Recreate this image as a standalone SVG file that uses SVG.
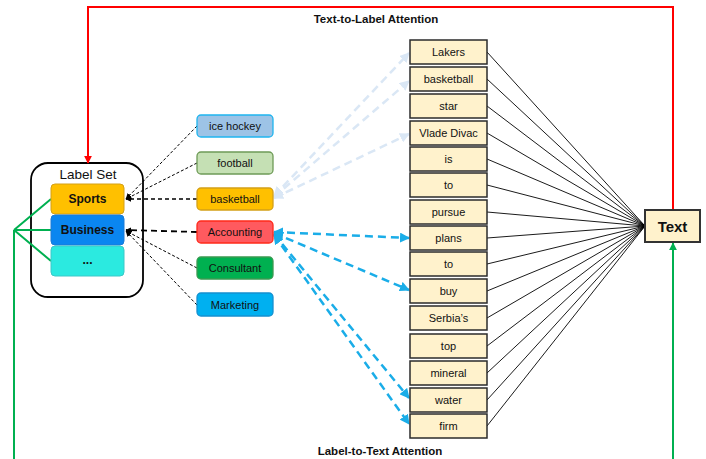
<svg xmlns="http://www.w3.org/2000/svg" width="706" height="459" viewBox="0 0 706 459">
<style>
text{font-family:"Liberation Sans",Arial,sans-serif;text-anchor:middle;dominant-baseline:central;fill:#111}
.w rect{fill:#FFF2CC;stroke:#2b2b2b;stroke-width:1.5}
.w text{font-size:11px}
.lbl text{font-size:11px}
.big{font-size:12px;font-weight:bold}
.title{font-size:11.5px;font-weight:bold}
.tl{stroke:#000;stroke-width:0.9;fill:none}
.bd{stroke:#000;stroke-width:1;fill:none;stroke-dasharray:3 2}
.bdm{stroke:#000;stroke-width:1.3;fill:none;stroke-dasharray:4 3}
.bdt{stroke:#000;stroke-width:1.8;fill:none;stroke-dasharray:6 4}
.lb{stroke:#DAE7F5;stroke-width:2.5;fill:none;stroke-dasharray:8 5}
.bl{stroke:#1AADE8;stroke-width:2.5;fill:none;stroke-dasharray:8 5}
</style>
<defs>
<marker id="mk" viewBox="0 0 10 10" refX="9" refY="5" markerWidth="6" markerHeight="6" markerUnits="userSpaceOnUse" orient="auto"><path d="M0,0L10,5L0,10z" fill="#000"/></marker>
<marker id="mlb" viewBox="0 0 10 10" refX="9" refY="5" markerWidth="4" markerHeight="4" orient="auto-start-reverse"><path d="M0,0L10,5L0,10z" fill="#DAE7F5"/></marker>
<marker id="mbl" viewBox="0 0 10 10" refX="9" refY="5" markerWidth="4" markerHeight="4" orient="auto-start-reverse"><path d="M0,0L10,5L0,10z" fill="#1AADE8"/></marker>
<marker id="mr" viewBox="0 0 10 10" refX="9" refY="5" markerWidth="4" markerHeight="4" orient="auto"><path d="M0,0L10,5L0,10z" fill="#FF0000"/></marker>
<marker id="mg" viewBox="0 0 10 10" refX="9" refY="5" markerWidth="4" markerHeight="4" orient="auto"><path d="M0,0L10,5L0,10z" fill="#00B050"/></marker>
</defs>

<g id="label-set">
<rect x="31" y="163" width="112" height="134" rx="17" fill="#fff" stroke="#000" stroke-width="1.8"/>
<text x="88" y="174" font-size="13.5">Label Set</text>
</g>

<g id="connectors">
<path d="M673,210V7H88V163" stroke="#FF0000" stroke-width="2" fill="none" marker-end="url(#mr)"/>
<path d="M14,230V462H673V243" stroke="#00B050" stroke-width="2" fill="none" marker-end="url(#mg)"/>
<path d="M14,230L51,199M14,230H51M14,230L51,261" stroke="#00B050" stroke-width="2" fill="none"/>
<g class="tl">
<path d="M487,52L645,226M487,79L645,226M487,106L645,226M487,133L645,226M487,159L645,226M487,185L645,226M487,212L645,226M487,238L645,226M487,264L645,226M487,291L645,226M487,318L645,226M487,346L645,226M487,373L645,226M487,400L645,226M487,426L645,226"/>
</g>
<path class="bd" d="M197,126L126,199" marker-end="url(#mk)"/>
<path class="bd" d="M197,163L126,199" marker-end="url(#mk)"/>
<path class="bdm" d="M197,199H126" marker-end="url(#mk)"/>
<path class="bdt" d="M197,232L126,230" marker-end="url(#mk)"/>
<path class="bd" d="M197,268L126,231" marker-end="url(#mk)"/>
<path class="bd" d="M197,305L126,231" marker-end="url(#mk)"/>
<path class="lb" d="M274,196L409,53" marker-start="url(#mlb)" marker-end="url(#mlb)"/>
<path class="lb" d="M274,197L409,81" marker-start="url(#mlb)" marker-end="url(#mlb)"/>
<path class="lb" d="M274,198L409,134" marker-start="url(#mlb)" marker-end="url(#mlb)"/>
<path class="bl" d="M274,232L409,238" marker-start="url(#mbl)" marker-end="url(#mbl)"/>
<path class="bl" d="M274,233L409,290" marker-start="url(#mbl)" marker-end="url(#mbl)"/>
<path class="bl" d="M274,234L409,398" marker-start="url(#mbl)" marker-end="url(#mbl)"/>
<path class="bl" d="M274,235L409,424" marker-start="url(#mbl)" marker-end="url(#mbl)"/>
</g>

<text class="title" x="376" y="19">Text-to-Label Attention</text>
<text class="title" x="380" y="451">Label-to-Text Attention</text>

<g id="sports"><rect x="51" y="184" width="73" height="30" rx="4" fill="#FFC000" stroke="#D4A017" stroke-width="1"/><text class="big" x="87.5" y="199">Sports</text></g>
<g id="business"><rect x="51" y="215" width="73" height="30" rx="4" fill="#0A86F0" stroke="#1C7BD6" stroke-width="1"/><text class="big" x="87.5" y="230">Business</text></g>
<g id="more"><rect x="51" y="246" width="73" height="30" rx="4" fill="#2BEAE0" stroke="#3CC8C8" stroke-width="1"/><text class="big" x="87.5" y="260">...</text></g>

<g class="lbl">
<g id="ice-hockey"><rect x="197" y="115" width="76" height="22" rx="4" fill="#9DC3E6" stroke="#1FB5EF" stroke-width="1.3"/><text x="235" y="126">ice hockey</text></g>
<g id="football"><rect x="197" y="152" width="76" height="22" rx="4" fill="#C5E0B4" stroke="#6E9B57" stroke-width="1.3"/><text x="235" y="163">football</text></g>
<g id="basketball-label"><rect x="197" y="188" width="76" height="22" rx="4" fill="#FFC000" stroke="#D4A017" stroke-width="1.3"/><text x="235" y="199">basketball</text></g>
<g id="accounting"><rect x="197" y="221" width="76" height="22" rx="4" fill="#FF5A5F" stroke="#FF2A1A" stroke-width="1.3"/><text x="235" y="232">Accounting</text></g>
<g id="consultant"><rect x="197" y="257" width="76" height="22" rx="4" fill="#00B050" stroke="#3A9A50" stroke-width="1.3"/><text x="235" y="268">Consultant</text></g>
<g id="marketing"><rect x="197" y="293" width="76" height="23" rx="4" fill="#00B0F0" stroke="#1590D0" stroke-width="1.3"/><text x="235" y="305">Marketing</text></g>
</g>

<g class="w">
<g id="w-lakers"><rect x="410" y="40" width="77" height="24"/><text x="448.5" y="52">Lakers</text></g>
<g id="w-basketball"><rect x="410" y="67" width="77" height="24"/><text x="448.5" y="79">basketball</text></g>
<g id="w-star"><rect x="410" y="94" width="77" height="24"/><text x="448.5" y="106">star</text></g>
<g id="w-vlade"><rect x="410" y="121" width="77" height="24"/><text x="448.5" y="133">Vlade Divac</text></g>
<g id="w-is"><rect x="410" y="147" width="77" height="24"/><text x="448.5" y="159">is</text></g>
<g id="w-to1"><rect x="410" y="173" width="77" height="24"/><text x="448.5" y="185">to</text></g>
<g id="w-pursue"><rect x="410" y="200" width="77" height="24"/><text x="448.5" y="212">pursue</text></g>
<g id="w-plans"><rect x="410" y="226" width="77" height="24"/><text x="448.5" y="238">plans</text></g>
<g id="w-to2"><rect x="410" y="252" width="77" height="24"/><text x="448.5" y="264">to</text></g>
<g id="w-buy"><rect x="410" y="279" width="77" height="24"/><text x="448.5" y="291">buy</text></g>
<g id="w-serbias"><rect x="410" y="306" width="77" height="24"/><text x="448.5" y="318">Serbia’s</text></g>
<g id="w-top"><rect x="410" y="334" width="77" height="24"/><text x="448.5" y="346">top</text></g>
<g id="w-mineral"><rect x="410" y="361" width="77" height="24"/><text x="448.5" y="373">mineral</text></g>
<g id="w-water"><rect x="410" y="388" width="77" height="24"/><text x="448.5" y="400">water</text></g>
<g id="w-firm"><rect x="410" y="414" width="77" height="24"/><text x="448.5" y="426">firm</text></g>
</g>

<g id="text-node"><rect x="645" y="210" width="55" height="32" fill="#FFF2CC" stroke="#333" stroke-width="2"/><text x="672.5" y="226" font-size="15" font-weight="bold">Text</text></g>
</svg>
